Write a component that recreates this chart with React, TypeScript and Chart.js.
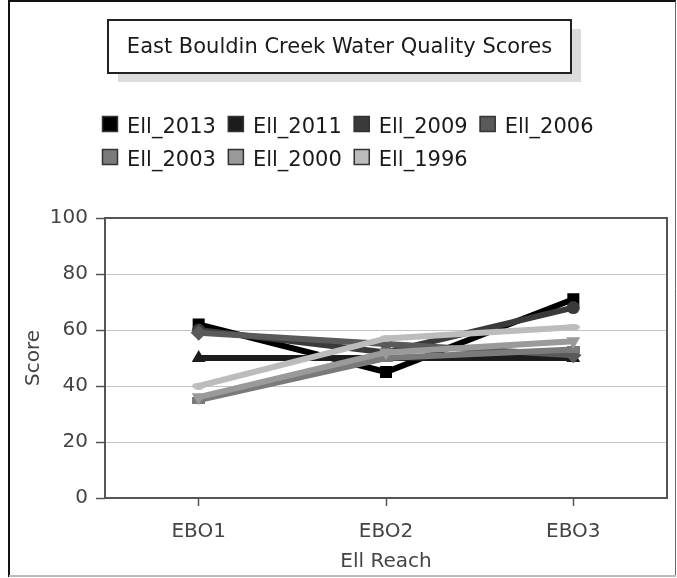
import { useEffect, useRef } from "react";
import { Chart, registerables } from "chart.js";

Chart.register(...registerables);

const FONT = "DejaVu Sans";

const categories = ["EBO1", "EBO2", "EBO3"];
const seriesNames = ["Ell_2013", "Ell_2011", "Ell_2009", "Ell_2006", "Ell_2003", "Ell_2000", "Ell_1996"];
const ell2013 = [62, 45, 71];
const ell2011 = [50, 50, 50];
const ell2009 = [60, 52, 68];
const ell2006 = [59, 55, 51];
const ell2003 = [35, 50, 53];
const ell2000 = [36, 52, 56];
const ell1996 = [40, 57, 61];
const seriesColors = ["#000000", "#1c1c1c", "#3a3a3a", "#5a5a5a", "#7a7a7a", "#9a9a9a", "#bcbcbc"];
const yTicks = [0, 20, 40, 60, 80, 100];
const titleText = "East Bouldin Creek Water Quality Scores";
const xTitle = "Ell Reach";
const yTitle = "Score";

function makeShape(w: number, h: number, color: string, ellipse: boolean) {
  const c = document.createElement("canvas");
  c.width = w;
  c.height = h;
  const g = c.getContext("2d")!;
  g.fillStyle = color;
  if (ellipse) {
    g.beginPath();
    g.ellipse(w / 2, h / 2, w / 2, h / 2, 0, 0, Math.PI * 2);
    g.fill();
  } else {
    g.fillRect(0, 0, w, h);
  }
  return c;
}

const decorPlugin = {
  id: "decor",
  beforeDraw(chart: any) {
    const ctx = chart.ctx as CanvasRenderingContext2D;
    ctx.save();
    ctx.fillStyle = "#ffffff";
    ctx.fillRect(0, 0, chart.width, chart.height);
    // outer frame
    ctx.strokeStyle = "#111";
    ctx.lineWidth = 2;
    ctx.beginPath();
    ctx.moveTo(9, 577);
    ctx.lineTo(9, 1);
    ctx.lineTo(676, 1);
    ctx.stroke();
    ctx.strokeStyle = "#666";
    ctx.lineWidth = 1;
    ctx.beginPath();
    ctx.moveTo(675.5, 1);
    ctx.lineTo(675.5, 576);
    ctx.stroke();
    ctx.strokeStyle = "#bbb";
    ctx.lineWidth = 2;
    ctx.beginPath();
    ctx.moveTo(9, 576);
    ctx.lineTo(676, 576);
    ctx.stroke();

    // title box with shadow
    const bx = 108, by = 20, bw = 463, bh = 53;
    ctx.fillStyle = "#dcdcdc";
    ctx.fillRect(bx + 10, by + 9, bw, bh);
    ctx.fillStyle = "#ffffff";
    ctx.fillRect(bx, by, bw, bh);
    ctx.strokeStyle = "#222";
    ctx.lineWidth = 2;
    ctx.strokeRect(bx, by, bw, bh);
    ctx.fillStyle = "#1a1a1a";
    ctx.font = `21px "${FONT}"`;
    ctx.textAlign = "center";
    ctx.textBaseline = "middle";
    ctx.fillText(titleText, bx + bw / 2, by + bh / 2 + 1);

    // legend
    const ds = chart.data.datasets;
    ctx.font = `21px "${FONT}"`;
    let maxW = 0;
    ds.forEach((d: any) => { maxW = Math.max(maxW, ctx.measureText(d.label).width); });
    const boxW = 16, boxH = 16, gap = 9, itemGap = 12;
    const step = boxW + gap + maxW + itemGap;
    const perRow = 4;
    ctx.textAlign = "left";
    ctx.textBaseline = "alphabetic";
    ds.forEach((d: any, i: number) => {
      const col = i % perRow;
      const row = Math.floor(i / perRow);
      const x = 102 + col * step;
      const y = 116 + row * 33;
      ctx.fillStyle = d.borderColor;
      ctx.fillRect(x, y, boxW, boxH);
      ctx.strokeStyle = "#333";
      ctx.lineWidth = 1.5;
      ctx.strokeRect(x + 0.5, y + 0.5, boxW - 1, boxH - 1);
      ctx.fillStyle = "#1a1a1a";
      ctx.fillText(d.label, x + boxW + gap, y + boxH + 1);
    });
    ctx.restore();
  },
  afterDraw(chart: any) {
    const { left, right, top, bottom } = chart.chartArea;
    const ctx = chart.ctx as CanvasRenderingContext2D;
    ctx.save();
    ctx.strokeStyle = "#555";
    ctx.lineWidth = 2;
    ctx.strokeRect(left, top, right - left, bottom - top);
    ctx.restore();
  },
};

export default function App() {
  const ref = useRef<HTMLCanvasElement>(null);
  useEffect(() => {
    if (!ref.current) return;
    const values = [ell2013, ell2011, ell2009, ell2006, ell2003, ell2000, ell1996];
    const styles: any[] = [
      { pointStyle: "rect", pointRadius: 8.5, pointRotation: 0 },
      { pointStyle: "triangle", pointRadius: 8, pointRotation: 0 },
      { pointStyle: "circle", pointRadius: 6.5, pointRotation: 0 },
      { pointStyle: "rectRot", pointRadius: 8, pointRotation: 0 },
      { pointStyle: makeShape(13, 7, seriesColors[4], false), pointRadius: 7, pointRotation: 0 },
      { pointStyle: "triangle", pointRadius: 8, pointRotation: 180 },
      { pointStyle: makeShape(13, 7, seriesColors[6], true), pointRadius: 7, pointRotation: 0 },
    ];
    const chart = new Chart(ref.current, {
      type: "line",
      data: {
        labels: categories,
        datasets: seriesNames.map((name, i) => ({
          label: name,
          data: values[i],
          order: -i,
          borderColor: seriesColors[i],
          backgroundColor: seriesColors[i],
          pointBackgroundColor: seriesColors[i],
          pointBorderColor: seriesColors[i],
          pointBorderWidth: 0,
          borderWidth: 6,
          tension: 0,
          fill: false,
          ...styles[i],
        })),
      },
      options: {
        responsive: false,
        animation: false,
        layout: { padding: { top: 218, right: 10, bottom: 0, left: 0 } },
        plugins: {
          legend: { display: false },
          title: { display: false },
          tooltip: { enabled: false },
        },
        scales: {
          x: {
            type: "category",
            offset: true,
            grid: {
              drawOnChartArea: false,
              drawTicks: true,
              tickLength: 8,
              tickColor: "#555",
              tickWidth: 1.5,
              offset: false,
            },
            border: { display: false },
            ticks: {
              color: "#444",
              font: { family: FONT, size: 20 },
              padding: 14,
              maxRotation: 0,
              autoSkip: false,
            },
            title: {
              display: true,
              text: xTitle,
              color: "#444",
              font: { family: FONT, size: 20 },
              padding: { top: 0, bottom: 4 },
            },
            afterFit: (s: any) => { s.height = 80; },
          },
          y: {
            min: 0,
            max: 100,
            afterBuildTicks: (s: any) => { s.ticks = yTicks.map((v) => ({ value: v })); },
            ticks: {
              color: "#444",
              font: { family: FONT, size: 20 },
              padding: 8,
            },
            grid: {
              color: "#c4c4c4",
              lineWidth: 1,
              tickColor: "#555",
              tickLength: 9,
              tickWidth: 1.5,
            },
            border: { display: false },
            title: {
              display: true,
              text: yTitle,
              color: "#444",
              font: { family: FONT, size: 20 },
              padding: { top: 22, bottom: 0 },
            },
            afterFit: (s: any) => { s.width = 105; },
          },
        },
      } as any,
      plugins: [decorPlugin],
    });
    return () => chart.destroy();
  }, []);
  return (
    <div style={{ position: "fixed", left: 0, top: 0, width: 677, height: 578 }}>
      <canvas ref={ref} width={677} height={578} style={{ display: "block" }} />
    </div>
  );
}
